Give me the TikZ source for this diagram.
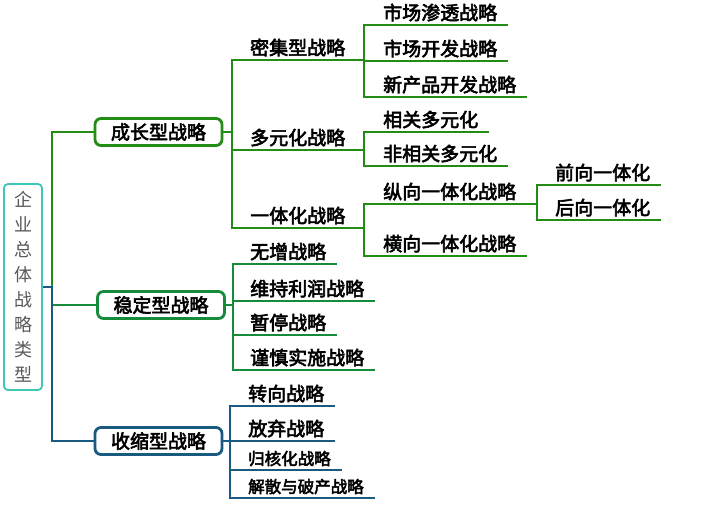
\documentclass[tikz,border=0pt]{standalone}
\usepackage{fontspec}
\newfontfamily\cjk{Noto Sans CJK SC}
\newfontfamily\cjkb{Noto Sans CJK SC}[FakeBold=3]
\definecolor{growgreen}{RGB}{34,140,20}
\definecolor{stablegreen}{RGB}{20,140,60}
\definecolor{shrinkblue}{RGB}{26,90,128}
\definecolor{rootteal}{RGB}{60,200,180}

\begin{document}
\begin{tikzpicture}[x=1pt, y=-1pt,
	every node/.style={inner sep=0pt},
	rootbox/.style={draw=rootteal, line width=1.8pt, rounded corners=4pt, minimum width=38pt, minimum height=206pt, align=center, text=black!65, font=\cjk\fontsize{18pt}{25pt}\selectfont},
	typebox/.style={draw=#1, line width=2.8pt, rounded corners=6pt, fill=white, minimum width=127pt, minimum height=27pt, font=\cjkb\fontsize{19pt}{22pt}\selectfont},
	leaf/.style={anchor=south west, text depth=5pt, font=\cjkb\fontsize{19pt}{22pt}\selectfont},
	small/.style={font=\cjkb\fontsize{16.5pt}{20pt}\selectfont},
	link/.style={draw=#1, line width=2.8pt}]
	\useasboundingbox[fill=white] (0,0) rectangle (717,507);
	% root and trunk
	\node[rootbox] (root) at (23,287) {企\\业\\总\\体\\战\\略\\类\\型};
	\coordinate (trunk) at (52,287);
	\node[typebox=growgreen] (growth) at (158.5,132) {成长型战略};
	\node[typebox=stablegreen] (stable) at (161,305) {稳定型战略};
	\node[typebox=shrinkblue] (shrink) at (158.5,441) {收缩型战略};
	\draw[link=growgreen] (trunk) |- (growth.west);
	\draw[link=stablegreen] (trunk) |- (stable.west);
	\draw[link=shrinkblue] (root.east) -- (trunk) |- (shrink.west);
	% growth branch
	\coordinate (growth-bus) at (232,132);
	\coordinate (dense-bus) at (364,60);
	\coordinate (diverse-bus) at (364,150);
	\coordinate (integ-bus) at (364,228);
	\coordinate (vert-bus) at (537,204);
	\node[leaf] (dense) at (250,60) {密集型战略};
	\node[leaf] (diverse) at (250,150) {多元化战略};
	\node[leaf] (integ) at (250,228) {一体化战略};
	\node[leaf] (pen) at (383,25) {市场渗透战略};
	\node[leaf] (mdev) at (383,61) {市场开发战略};
	\node[leaf] (pdev) at (383,97) {新产品开发战略};
	\node[leaf] (rel) at (383,132) {相关多元化};
	\node[leaf] (unrel) at (383,166) {非相关多元化};
	\node[leaf] (vert) at (383,204) {纵向一体化战略};
	\node[leaf] (horiz) at (383,256) {横向一体化战略};
	\node[leaf] (fwd) at (555,185) {前向一体化};
	\node[leaf] (bwd) at (555,220) {后向一体化};
	\draw[link=growgreen] (growth.east) -- (growth-bus);
	\foreach \c in {dense-bus,diverse-bus,integ-bus}
		\draw[link=growgreen] (growth-bus) |- (\c);
	\foreach \c in {pen,mdev,pdev}
		\draw[link=growgreen] (dense-bus) |- ([xshift=11pt]\c.south east);
	\foreach \c in {rel,unrel}
		\draw[link=growgreen] (diverse-bus) |- ([xshift=11pt]\c.south east);
	\draw[link=growgreen] (integ-bus) |- (vert-bus);
	\draw[link=growgreen] (integ-bus) |- ([xshift=11pt]horiz.south east);
	\foreach \c in {fwd,bwd}
		\draw[link=growgreen] (vert-bus) |- ([xshift=11pt]\c.south east);
	% stable branch
	\coordinate (stable-bus) at (233,305);
	\node[leaf] (nogrow) at (250,264) {无增战略};
	\node[leaf] (profit) at (250,301) {维持利润战略};
	\node[leaf] (pause) at (250,335) {暂停战略};
	\node[leaf] (caution) at (250,370) {谨慎实施战略};
	\draw[link=stablegreen] (stable.east) -- (stable-bus);
	\foreach \c in {nogrow,profit,pause,caution}
		\draw[link=stablegreen] (stable-bus) |- ([xshift=11pt]\c.south east);
	% shrink branch
	\coordinate (shrink-bus) at (230,441);
	\node[leaf] (turn) at (248,406) {转向战略};
	\node[leaf] (quit) at (248,441) {放弃战略};
	\node[leaf, small] (core) at (248,470) {归核化战略};
	\node[leaf, small] (dissolve) at (248,498) {解散与破产战略};
	\draw[link=shrinkblue] (shrink.east) -- (shrink-bus);
	\foreach \c in {turn,quit,core,dissolve}
		\draw[link=shrinkblue] (shrink-bus) |- ([xshift=11pt]\c.south east);
\end{tikzpicture}
\end{document}
